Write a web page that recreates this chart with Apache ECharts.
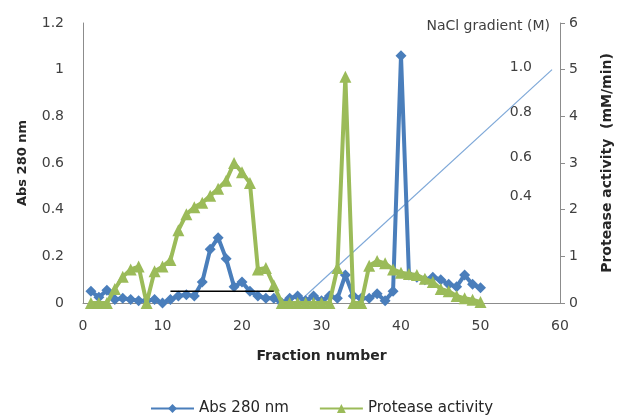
<!DOCTYPE html>
<html>
<head>
<meta charset="utf-8">
<script src="https://cdn.jsdelivr.net/npm/echarts@6/dist/echarts.min.js"></script>
<style>
  html, body { margin: 0; padding: 0; background: #ffffff; }
  #chart { width: 620px; height: 419px; }
</style>
</head>
<body>
<div id="chart"></div>
<script>
// Elution profile of the ion-exchange column
const fractions = [1, 2, 3, 4, 5, 6, 7, 8, 9, 10,
                   11, 12, 13, 14, 15, 16, 17, 18, 19, 20,
                   21, 22, 23, 24, 25, 26, 27, 28, 29, 30,
                   31, 32, 33, 34, 35, 36, 37, 38, 39, 40,
                   41, 42, 43, 44, 45, 46, 47, 48, 49, 50];

// Abs 280 nm (left axis)
const abs280 = [0.05, 0.025, 0.055, 0.015, 0.02, 0.015, 0.01, 0.01, 0.015, 0.0,
                0.015, 0.03, 0.035, 0.03, 0.09, 0.23, 0.28, 0.19, 0.07, 0.09,
                0.05, 0.03, 0.02, 0.02, 0.0, 0.02, 0.03, 0.01, 0.03, 0.01,
                0.03, 0.02, 0.12, 0.03, 0.02, 0.02, 0.04, 0.01, 0.05, 1.06,
                0.12, 0.11, 0.1, 0.11, 0.1, 0.08, 0.07, 0.12, 0.08, 0.065];

// Protease activity, mM/min (right axis)
const protease = [0, 0, 0, 0.3, 0.56, 0.72, 0.78, 0, 0.68, 0.78,
                  0.92, 1.56, 1.9, 2.05, 2.15, 2.3, 2.45, 2.62, 3.0, 2.8,
                  2.57, 0.72, 0.75, 0.38, 0, 0, 0, 0, 0, 0,
                  0, 0.75, 4.85, 0, 0, 0.8, 0.9, 0.85, 0.72, 0.65,
                  0.62, 0.6, 0.52, 0.45, 0.3, 0.25, 0.15, 0.1, 0.07, 0.02];

// Linear NaCl gradient (M)
const naclFractions = [27, 59];
const naclMolarity = [0, 1.0];
const naclTicks = [0.4, 0.6, 0.8, 1.0];

// Pooled active fractions
const poolFractions = [11, 24];
const poolLevel = [0.05, 0.05];

const xTicks = [0, 10, 20, 30, 40, 50, 60];

const FONT = '"DejaVu Sans", "Liberation Sans", sans-serif';
const BLUE = '#4a7ebb';
const GREEN = '#9bbb59';
const AXIS_GREY = '#8c8c8c';
const LABEL = '#404040';
const TITLE = '#262626';

const zip = (xs, ys) => xs.map((x, i) => [x, ys[i]]);

// Small upward nudges for the gradient labels
const naclShift = { '0.4': 26, '0.6': 12, '0.8': 8, '1.0': 4 };
const naclRich = {};
naclTicks.forEach(v => {
  const t = v.toFixed(1);
  naclRich['n' + t.replace('.', '')] = {
    padding: [0, 0, naclShift[t], 0], fontSize: 14, color: LABEL, fontFamily: FONT
  };
});

const chart = echarts.init(document.getElementById('chart'), null, { renderer: 'canvas' });

chart.setOption({
  animation: false,
  textStyle: { fontFamily: FONT },
  grid: {
    left: 83, right: 60, top: 23, bottom: 116,
    containLabel: false,
    outerBoundsMode: 'none'
  },
  legend: {
    data: ['Abs 280 nm', 'Protease activity'],
    left: 145,
    top: 396,
    itemWidth: 43,
    itemHeight: 11,
    itemGap: 30,
    textStyle: { fontSize: 15, color: TITLE, fontFamily: FONT }
  },
  xAxis: {
    type: 'value',
    min: xTicks[0],
    max: xTicks[xTicks.length - 1],
    interval: 10,
    name: 'Fraction number',
    nameLocation: 'middle',
    nameGap: 46,
    nameTextStyle: { fontSize: 14, fontWeight: 'bold', color: TITLE, fontFamily: FONT },
    axisLine: { lineStyle: { color: AXIS_GREY, width: 1 } },
    axisTick: { show: false },
    splitLine: { show: false },
    axisLabel: { fontSize: 14, color: LABEL, margin: 16, fontFamily: FONT }
  },
  yAxis: [
    {
      type: 'value',
      min: 0,
      max: 1.2,
      interval: 0.2,
      name: 'Abs 280 nm',
      nameLocation: 'middle',
      nameGap: 54,
      nameTextStyle: { fontSize: 13, fontWeight: 'bold', color: TITLE, fontFamily: FONT },
      axisLine: { show: true, lineStyle: { color: AXIS_GREY, width: 1 } },
      axisTick: { show: false },
      splitLine: { show: false },
      axisLabel: { fontSize: 14, color: LABEL, margin: 19, fontFamily: FONT }
    },
    {
      type: 'value',
      position: 'right',
      min: 0,
      max: 6,
      interval: 1,
      name: 'Protease activity  (mM/min)',
      nameLocation: 'middle',
      nameGap: 40,
      nameRotate: 90,
      nameTextStyle: { fontSize: 14, fontWeight: 'bold', color: TITLE, fontFamily: FONT },
      axisLine: { show: true, lineStyle: { color: AXIS_GREY, width: 1 } },
      axisTick: { show: true, inside: false, length: 5, lineStyle: { color: AXIS_GREY } },
      splitLine: { show: false },
      axisLabel: { fontSize: 14, color: LABEL, margin: 9, fontFamily: FONT }
    },
    {
      type: 'value',
      position: 'right',
      offset: 0,
      min: 0,
      max: 1.2,
      name: 'NaCl gradient (M)',
      nameLocation: 'end',
      nameGap: -10,
      nameTextStyle: { fontSize: 14, color: LABEL, align: 'right', padding: [0, 10, 0, 0], fontFamily: FONT },
      axisLine: { show: false },
      axisTick: { show: false },
      splitLine: { show: false },
      axisLabel: {
        inside: true,
        margin: 28,
        customValues: naclTicks,
        formatter: v => {
          const t = v.toFixed(1);
          return '{n' + t.replace('.', '') + '|' + t + '}';
        },
        rich: naclRich
      }
    }
  ],
  series: [
    {
      name: 'NaCl gradient',
      type: 'line',
      yAxisIndex: 2,
      data: zip(naclFractions, naclMolarity),
      symbol: 'none',
      silent: true,
      lineStyle: { color: '#7ea8d8', width: 1.2 },
      z: 1
    },
    {
      name: 'Abs 280 nm',
      type: 'line',
      yAxisIndex: 0,
      data: zip(fractions, abs280),
      symbol: 'diamond',
      symbolSize: 11,
      lineStyle: { color: BLUE, width: 4 },
      itemStyle: { color: BLUE },
      z: 3
    },
    {
      name: 'Protease activity',
      type: 'line',
      yAxisIndex: 1,
      data: zip(fractions, protease),
      symbol: 'triangle',
      symbolSize: 12,
      lineStyle: { color: GREEN, width: 4 },
      itemStyle: { color: GREEN },
      z: 4
    },
    {
      name: 'Pooled fractions',
      type: 'line',
      yAxisIndex: 0,
      data: zip(poolFractions, poolLevel),
      symbol: 'none',
      silent: true,
      lineStyle: { color: '#000000', width: 1.5 },
      z: 5
    }
  ]
});
</script>
</body>
</html>
